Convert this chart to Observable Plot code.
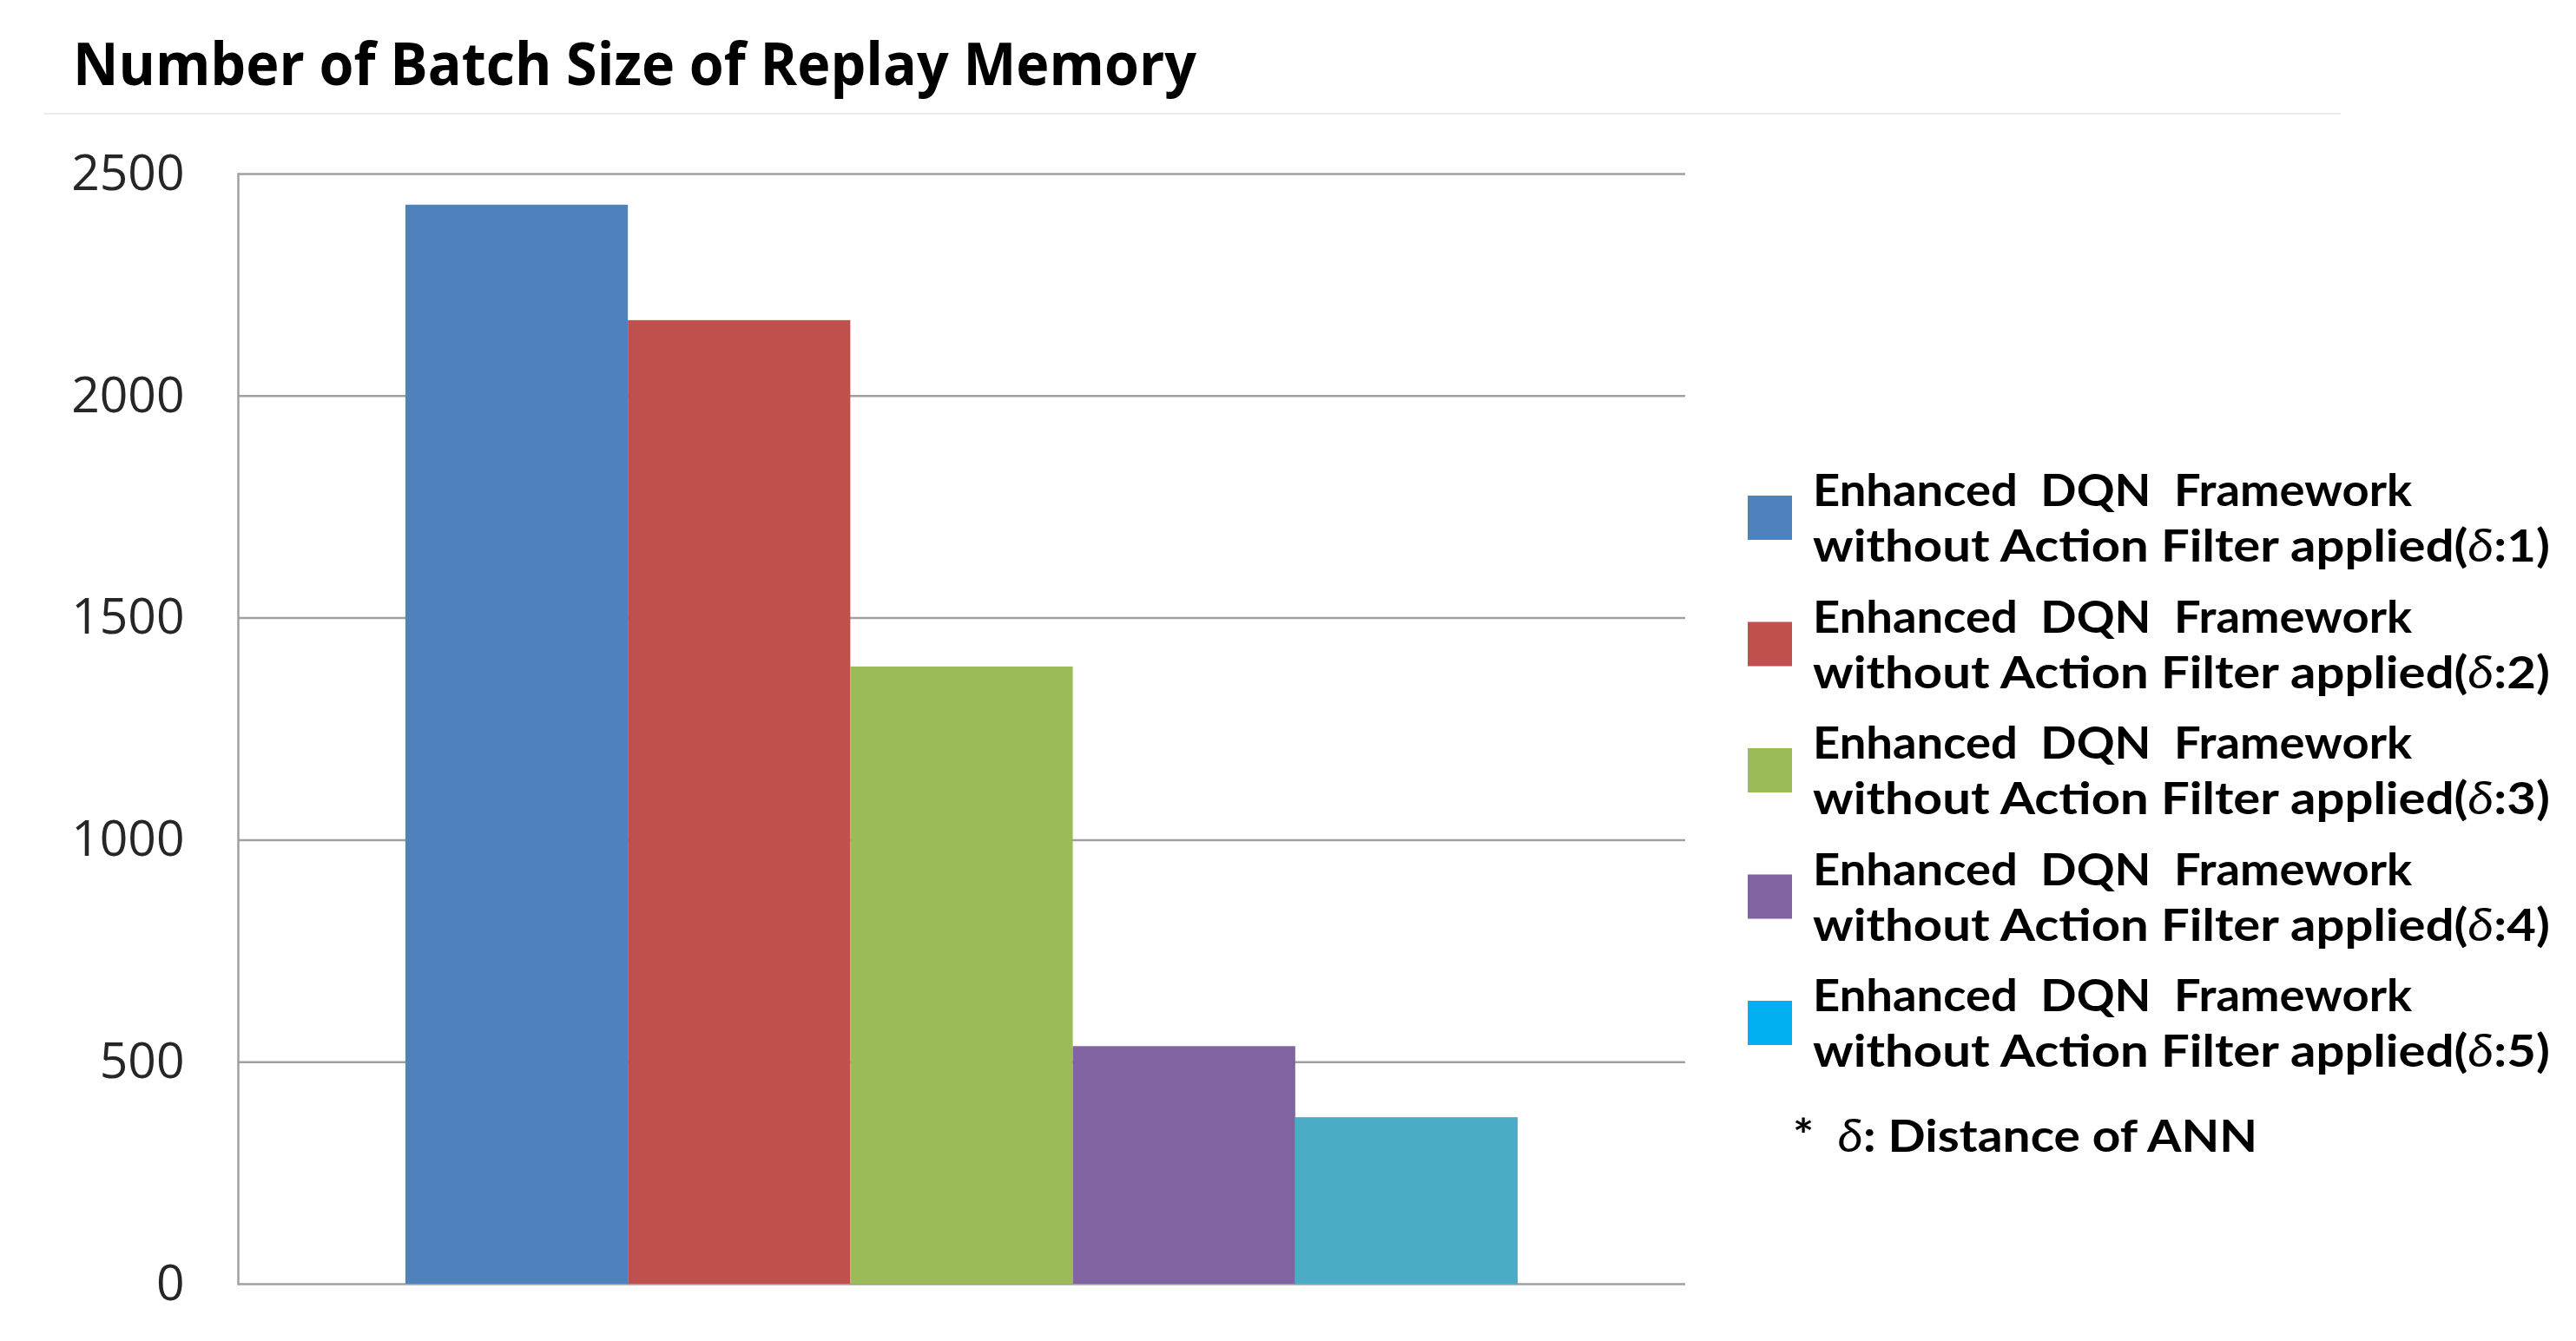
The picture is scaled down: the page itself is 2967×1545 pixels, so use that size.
<!DOCTYPE html>
<html><head><meta charset="utf-8">
<script src="https://cdn.jsdelivr.net/npm/d3@7"></script>
<script src="https://cdn.jsdelivr.net/npm/@observablehq/plot@0.6"></script>
<style>
html,body{margin:0;padding:0;background:#fff;}
#page{position:relative;width:2967px;height:1545px;overflow:hidden;background:#fff;}
#chart{position:absolute;left:0;top:140px;}
#overlay{position:absolute;left:0;top:0;}
</style></head>
<body><div id="page"><div id="chart"></div><svg id="overlay" width="2967" height="1545" xmlns="http://www.w3.org/2000/svg"></svg></div>
<script>
const title = "Number of Batch Size of Replay Memory";
const series = ["δ:1", "δ:2", "δ:3", "δ:4", "δ:5"];
const values = [2430, 2170, 1390, 535, 375];
const barColors = ["#4F81BD", "#C0504D", "#9BBB59", "#8064A2", "#4BACC6"];
const legendColors = ["#4F81BD", "#C0504D", "#9BBB59", "#8064A2", "#00B0F0"];
const legendLine1 = "Enhanced  DQN  Framework";
const legendLine2 = "without Action Filter applied(";
const yTicks = [0, 500, 1000, 1500, 2000, 2500];
const footnoteText = ": Distance of ANN";

const data = series.map((s, i) => ({series: s, value: values[i]}));

const chart = Plot.plot({
  width: 1960, height: 1405,
  marginLeft: 274, marginRight: 19, marginTop: 60, marginBottom: 66,
  style: {fontFamily: "Open Sans", fontSize: "57px", color: "#262626", background: "transparent", maxWidth: "none"},
  x: {domain: series, paddingInner: 0, paddingOuter: 0.753, axis: null, round: false},
  y: {domain: [0, 2500], ticks: yTicks, tickSize: 0, tickPadding: 62, label: null, tickFormat: d3.format("d")},
  color: {domain: series, range: barColors},
  marks: [
    Plot.ruleY(yTicks, {stroke: "#a0a0a0", strokeWidth: 2.5}),
    Plot.frame({anchor: "left", stroke: "#a0a0a0", strokeWidth: 2.5}),
    Plot.barY(data, {x: "series", y: "value", fill: "series"})
  ]
});
document.getElementById("chart").appendChild(chart);

// overlay: title, separator, legend
const ov = d3.select("#overlay");
ov.append("text").attr("x", 84).attr("y", 98)
  .attr("font-family", "'Open Sans', sans-serif").attr("font-weight", 700).attr("font-size", 68)
  .attr("fill", "#000").attr("textLength", 1294).attr("lengthAdjust", "spacingAndGlyphs")
  .text(title);
ov.append("line").attr("x1", 51).attr("x2", 2696).attr("y1", 131).attr("y2", 131)
  .attr("stroke", "#ececec").attr("stroke-width", 2);

const lg = ov.append("g").attr("font-family", "Lato, sans-serif").attr("font-weight", 700).attr("font-size", 52).attr("fill", "#000");
series.forEach((s, i) => {
  const y0 = 571 + 145.5 * i;
  lg.append("rect").attr("x", 2013).attr("y", y0).attr("width", 51).attr("height", 51).attr("fill", legendColors[i]);
  lg.append("text").attr("x", 2088).attr("y", y0 + 12)
    .attr("textLength", 690).attr("lengthAdjust", "spacingAndGlyphs")
    .style("white-space", "pre").text(legendLine1);
  const t = lg.append("text").attr("x", 2088).attr("y", y0 + 76)
    .attr("textLength", 849).attr("lengthAdjust", "spacingAndGlyphs");
  t.append("tspan").text(legendLine2);
  t.append("tspan").attr("font-style", "italic").attr("font-weight", 400).text("δ");
  t.append("tspan").text(s.slice(1) + ")");
});
const fn = lg.append("text").attr("x", 2065).attr("y", 1327).attr("textLength", 535).attr("lengthAdjust", "spacingAndGlyphs")
  .style("white-space", "pre");
fn.append("tspan").text("*  ");
fn.append("tspan").attr("font-style", "italic").attr("font-weight", 400).text("δ");
fn.append("tspan").text(footnoteText);
</script>
</body></html>
